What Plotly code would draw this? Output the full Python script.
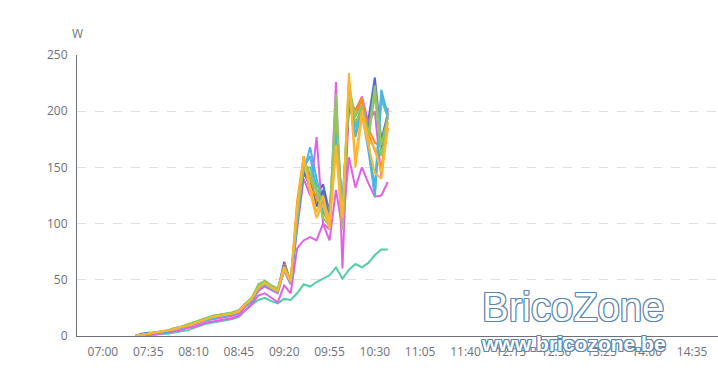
import plotly.graph_objects as go

# time grid (minutes since midnight), 07:25 .. 10:40 every 5 min
times = ["07:25","07:30","07:35","07:40","07:45","07:50","07:55","08:00","08:05","08:10",
         "08:15","08:20","08:25","08:30","08:35","08:40","08:45","08:50","08:55","09:00",
         "09:05","09:10","09:15","09:20","09:25","09:30","09:35","09:40","09:45","09:50",
         "09:55","10:00","10:05","10:10","10:15","10:20","10:25","10:30","10:35","10:40"]

tick_labels = ["07:00","07:35","08:10","08:45","09:20","09:55","10:30","11:05",
               "11:40","12:15","12:50","13:25","14:00","14:35"]

s_blue1 = [0,2,3,3,3,4,6,7,9,11,13,15,16,17,18,19,21,27,32,43,47,43,40,66,48,
           105,150,130,125,135,110,180,110,207,186,204,192,230,174,198]
s_orange1 = [0,1,2,3,4,4,6,8,9,11,13,15,17,18,19,20,22,28,33,44,48,44,40,64,49,
             120,160,140,120,110,100,190,100,215,195,210,185,172,169,190]
s_green1 = [0,1,2,3,4,5,7,8,10,12,14,16,18,19,20,21,23,29,34,45,49,45,42,62,50,
            110,155,145,130,120,105,215,95,222,195,205,180,223,170,195]
s_yellow1 = [0,1,2,3,4,5,6,8,9,11,13,15,17,18,19,20,22,28,33,43,47,43,40,61,48,
             115,158,135,110,125,100,170,105,234,157,201,175,167,145,190]
s_lblue1 = [0,1,2,2,3,4,6,7,9,11,13,14,16,17,18,19,21,27,31,42,46,42,39,60,47,
            100,145,168,140,115,108,175,115,215,177,200,170,132,219,196]
s_magenta1 = [0,1,1,2,3,4,5,7,8,10,12,14,15,16,17,18,20,26,30,40,44,41,38,58,46,
              95,140,125,177,100,95,226,60,210,201,213,190,200,141,203]
s_teal1 = [0,1,2,3,3,4,6,7,9,11,13,14,16,17,18,19,21,27,31,42,46,42,39,59,47,
           105,150,150,135,125,110,200,110,226,185,205,175,124,210,195]
s_blue2 = [0,1,2,3,4,4,6,8,9,11,13,15,17,18,19,20,22,28,32,43,47,43,40,63,48,
           100,145,135,115,130,105,185,105,205,190,200,185,220,165,195]
s_orange2 = [0,1,2,3,4,5,6,8,10,12,13,15,17,18,19,20,22,28,33,44,48,44,41,60,48,
             110,155,130,125,115,100,195,100,210,200,212,180,165,150,185]
s_green2 = [0,1,2,3,4,5,7,8,10,12,14,16,18,19,20,21,23,29,34,46,49,45,42,61,50,
            105,150,140,128,105,98,205,100,220,190,200,175,215,160,190]
s_yellow2 = [0,1,2,3,4,5,6,8,9,11,13,15,17,18,19,20,22,28,33,44,48,44,41,59,49,
             112,160,128,105,118,95,165,95,228,150,195,170,145,140,185]
s_lblue2 = [0,1,2,3,3,4,6,7,9,11,13,14,16,17,18,19,21,27,32,43,46,42,40,62,47,
            98,150,160,130,110,105,180,120,212,180,198,165,125,215,198]
s_magenta2 = [0,0,1,2,2,3,4,5,7,8,10,12,13,14,15,16,18,23,28,36,38,34,30,45,38,
              78,85,88,85,100,85,130,95,159,132,150,136,124,125,137]
s_teal2 = [0,0,1,1,2,2,3,4,5,7,9,11,12,13,14,15,17,23,28,32,34,31,29,33,32,
           38,46,44,48,51,54,61,51,59,64,61,65,72,77,77]

series = [
    (s_teal2, "#4fcfa3"),
    (s_magenta2, "#e062e4"),
    (s_blue1, "#5865d6"),
    (s_orange1, "#ff8c1a"),
    (s_lblue1, "#4db3ea"),
    (s_magenta1, "#e062e4"),
    (s_teal1, "#4fcfa3"),
    (s_blue2, "#5865d6"),
    (s_orange2, "#ff8c1a"),
    (s_lblue2, "#4db3ea"),
    (s_green2, "#8fc860"),
    (s_yellow2, "#ffb52e"),
    (s_green1, "#8fc860"),
    (s_yellow1, "#ffb52e"),
]

def to_min(s):
    h, m = s.split(":")
    return int(h) * 60 + int(m)

xs = [to_min(t) for t in times]
tickvals = [to_min(t) for t in tick_labels]

fig = go.Figure()
for vals, col in series:
    fig.add_trace(go.Scatter(x=xs, y=vals, mode="lines",
                             line=dict(color=col, width=2), showlegend=False))

axis_font = dict(family="Open Sans, Noto Sans, sans-serif", size=12, color="#6e7079")

fig.update_layout(
    width=718, height=387,
    margin=dict(l=77, r=0, t=55, b=51),
    paper_bgcolor="white", plot_bgcolor="white",
    font=axis_font,
    xaxis=dict(range=[400, 895], tickvals=tickvals, ticktext=tick_labels,
               showgrid=False, zeroline=False, showline=True, linecolor="#6e7079",
               linewidth=1, ticks="outside", ticklen=5, tickcolor="rgba(0,0,0,0)",
               tickfont=axis_font),
    yaxis=dict(range=[0, 250], dtick=50, showgrid=True, gridcolor="#e0e0e0",
               griddash="dash", gridwidth=1, zeroline=False, showline=True,
               linecolor="#6e7079", linewidth=1, ticks="outside", ticklen=6,
               tickcolor="rgba(0,0,0,0)", tickfont=axis_font),
)

fig.add_annotation(text="W", xref="paper", yref="paper", x=0, y=1, xshift=0, yshift=22,
                   showarrow=False, font=axis_font, xanchor="center", yanchor="middle")

outline = ("1px 0 0 #5b86b0, -1px 0 0 #5b86b0, 0 1px 0 #5b86b0, 0 -1px 0 #5b86b0, "
           "1px 1px 0 #5b86b0, -1px -1px 0 #5b86b0, 1px -1px 0 #5b86b0, -1px 1px 0 #5b86b0")
fig.add_annotation(text="BricoZone", xref="paper", yref="paper",
                   x=(573 - 77) / 641, y=(336 - 307) / 281, showarrow=False,
                   xanchor="center", yanchor="middle",
                   font=dict(family="Liberation Sans, Arial, sans-serif", size=40,
                             color="white", shadow=outline))
fig.add_annotation(text="www.bricozone.be", xref="paper", yref="paper",
                   x=(573 - 77) / 641, y=(336 - 343) / 281, showarrow=False,
                   xanchor="center", yanchor="middle",
                   font=dict(family="Liberation Sans, Arial, sans-serif", size=21,
                             weight="bold", color="white", shadow=outline))

fig.write_html("out.html")
